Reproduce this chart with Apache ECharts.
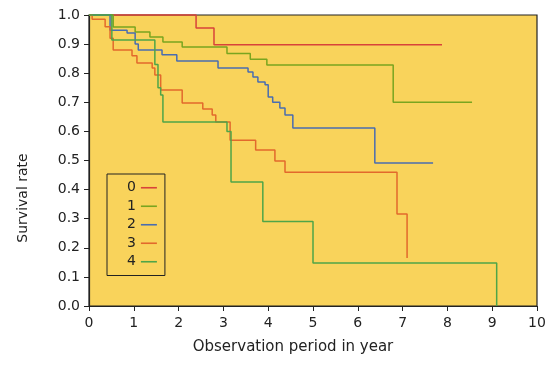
<!DOCTYPE html>
<html><head><meta charset="utf-8">
<script src="https://cdn.jsdelivr.net/npm/echarts@6/dist/echarts.min.js"></script>
<style>html,body{margin:0;padding:0;background:#fff}#c{width:559px;height:373px}</style>
</head><body><div id="c"></div>
<script>
var groups = ['0','1','2','3','4'];
var colors = ['#d8433a','#7aa51f','#4a6db0','#e2692c','#4fa548'];
var xTicks = [0,1,2,3,4,5,6,7,8,9,10];
var yTicks = [0,0.1,0.2,0.3,0.4,0.5,0.6,0.7,0.8,0.9,1.0];
var xTitle = 'Observation period in year';
var yTitle = 'Survival rate';

var t0 = [0, 2.39, 2.79, 7.88];
var s0 = [1.0, 0.955, 0.898, 0.898];

var t1 = [0, 0.54, 1.03, 1.36, 1.65, 2.08, 3.08, 3.6, 3.97, 6.79, 8.55];
var s1 = [1.0, 0.959, 0.942, 0.924, 0.907, 0.89, 0.868, 0.848, 0.828, 0.70, 0.70];

var t2 = [0, 0.47, 0.85, 1.03, 1.1, 1.63, 1.96, 2.88, 3.55, 3.66, 3.77, 3.93, 4.0, 4.1, 4.26, 4.375, 4.55, 6.38, 7.68];
var s2 = [1.0, 0.948, 0.938, 0.90, 0.88, 0.863, 0.842, 0.818, 0.804, 0.787, 0.77, 0.76, 0.718, 0.70, 0.68, 0.656, 0.612, 0.491, 0.491];

var t3 = [0, 0.07, 0.36, 0.47, 0.54, 0.96, 1.07, 1.41, 1.47, 1.6, 2.08, 2.54, 2.75, 2.83, 3.15, 3.72, 4.15, 4.375, 6.875, 7.1];
var s3 = [1.0, 0.985, 0.96, 0.92, 0.88, 0.86, 0.835, 0.818, 0.794, 0.742, 0.698, 0.677, 0.656, 0.632, 0.57, 0.536, 0.498, 0.46, 0.316, 0.165];

var t4 = [0, 0.51, 1.47, 1.54, 1.6, 1.65, 3.08, 3.17, 3.88, 5.0, 9.1];
var s4 = [1.0, 0.914, 0.83, 0.75, 0.725, 0.632, 0.60, 0.426, 0.29, 0.148, 0.0];

var times = [t0,t1,t2,t3,t4];
var survs = [s0,s1,s2,s3,s4];

var font = 'DejaVu Sans';
var series = groups.map(function(g,i){
  return {
    name: g, type: 'line', step: 'end', symbol: 'none',
    data: times[i].map(function(t,k){return [t, survs[i][k]];}),
    lineStyle: {color: colors[i], width: 1.5},
    itemStyle: {color: colors[i]},
    clip: false
  };
});

var chart = echarts.init(document.getElementById('c'), null, {renderer:'canvas'});
chart.setOption({
  animation: false,
  grid: {left: 89, right: 22, top: 15, bottom: 67, show: true, backgroundColor: '#f9d35b', borderColor: '#222', borderWidth: 1.2},
  xAxis: {
    type: 'value', min: xTicks[0], max: xTicks[xTicks.length-1], interval: 1,
    name: xTitle, nameLocation: 'middle', nameGap: 34,
    nameTextStyle: {fontFamily: font, fontSize: 15, color: '#222', padding: [0, 40, 0, 0]},
    axisLine: {lineStyle: {color: '#222', width: 1.2}},
    axisTick: {show: true, length: 5, lineStyle: {color: '#222'}},
    axisLabel: {fontFamily: font, fontSize: 14, color: '#222', margin: 10},
    splitLine: {show: false}
  },
  yAxis: {
    type: 'value', min: yTicks[0], max: yTicks[yTicks.length-1], interval: 0.1,
    axisLine: {show: true, lineStyle: {color: '#222', width: 1.2}},
    axisTick: {show: true, length: 5, lineStyle: {color: '#222'}},
    axisLabel: {fontFamily: font, fontSize: 14, color: '#222', margin: 9,
      formatter: function(v){return v.toFixed(1);}},
    splitLine: {show: false}
  },
  graphic: [{
    type: 'text', x: 23, y: 198, rotation: Math.PI/2,
    style: {text: yTitle, fontFamily: font, fontSize: 14, fill: '#222', textAlign: 'center', textVerticalAlign: 'middle'}
  }],
  legend: {
    data: groups, orient: 'vertical', left: 107, top: 174,
    align: 'right', icon: 'rect', itemWidth: 16, itemHeight: 1.6, itemGap: 3,
    padding: [6, 8, 6, 20],
    borderColor: '#222', borderWidth: 1, backgroundColor: '#f9d35b',
    textStyle: {fontFamily: font, fontSize: 14, color: '#222', lineHeight: 15.5}
  },
  series: series
});
</script></body></html>
